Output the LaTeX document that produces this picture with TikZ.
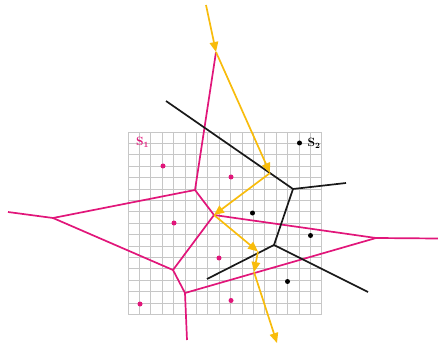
\documentclass[tikz,border=0pt]{standalone}
\usepackage{tikz}
\usetikzlibrary{arrows.meta}
\definecolor{vmag}{RGB}{225,22,122}
\definecolor{vyel}{RGB}{248,188,12}

\begin{document}
\begin{tikzpicture}[x=1pt,y=-1pt,
		cell/.style={draw=black!22, line width=0.8pt},
		magline/.style={vmag, line width=1.7pt},
		blkline/.style={black!90, line width=1.7pt},
		ray/.style={vyel, line width=1.7pt, -{Triangle[length=10pt,width=8.5pt]}},
		site/.style={circle, fill=#1, inner sep=0pt, minimum size=5pt}]
		\useasboundingbox (0,0) rectangle (438,347);
		% Draw grid
		\foreach \i in {0,...,17}
			\draw[cell] (128+\i*11.4,132) -- (128+\i*11.4,314.4);
		\foreach \j in {0,...,16}
			\draw[cell] (128,132+\j*11.4) -- (321.8,132+\j*11.4);
		% Voronoi vertices
		\coordinate (A) at (216,52);
		\coordinate (B) at (195,190);
		\coordinate (C) at (53,218);
		\coordinate (D) at (173,270);
		\coordinate (E) at (214,215);
		\coordinate (F) at (185,293);
		\coordinate (G) at (376,238);
		\coordinate (H) at (293,189);
		\coordinate (I) at (274,245);
		% Open ends
		\coordinate (m1) at (8,212);
		\coordinate (m2) at (187,340);
		\coordinate (m3) at (438,238.5);
		\coordinate (b1) at (166,101);
		\coordinate (b2) at (346,183);
		\coordinate (b3) at (207,279);
		\coordinate (b4) at (368,292);
		% Ray points
		\coordinate (r0) at (206,5);
		\coordinate (P1) at (270,173);
		\coordinate (P2) at (258,251.5);
		\coordinate (P3) at (254,272);
		\coordinate (r5) at (277,343);
		% Sites
		\node[site=vmag] (s1) at (163,166) {};
		\node[site=vmag] (s2) at (231,177) {};
		\node[site=vmag] (s3) at (174,223) {};
		\node[site=vmag] (s4) at (219,258) {};
		\node[site=vmag] (s5) at (140,304) {};
		\node[site=vmag] (s6) at (231,300.5) {};
		\node[site=black] (t1) at (299.5,143) {};
		\node[site=black] (t2) at (252.5,213) {};
		\node[site=black] (t3) at (310.5,235.5) {};
		\node[site=black] (t4) at (287.5,281.5) {};
		% Labels
		\node[text=vmag, font=\large\bfseries] (lab1) at (142.5,142.5) {S\textsubscript{1}};
		\node[font=\large\bfseries] (lab2) at (314,143) {S\textsubscript{2}};
		% Magenta cells
		\draw[magline] (m1) -- (C) -- (B) -- (A);
		\draw[magline] (B) -- (E) -- (D) -- (C);
		\draw[magline] (D) -- (F) -- (m2);
		\draw[magline] (F) -- (G) -- (m3);
		\draw[magline] (E) -- (G);
		% Black cells
		\draw[blkline] (b1) -- (H) -- (b2);
		\draw[blkline] (H) -- (I) -- (b4);
		\draw[blkline] (I) -- (b3);
		% Ray
		\draw[ray] (r0) -- (A);
		\draw[ray] (A) -- (P1);
		\draw[ray] (P1) -- (E);
		\draw[ray] (E) -- (P2);
		\draw[ray] (P2) -- (P3);
		\draw[ray] (P3) -- (r5);
	\end{tikzpicture}
\end{document}
